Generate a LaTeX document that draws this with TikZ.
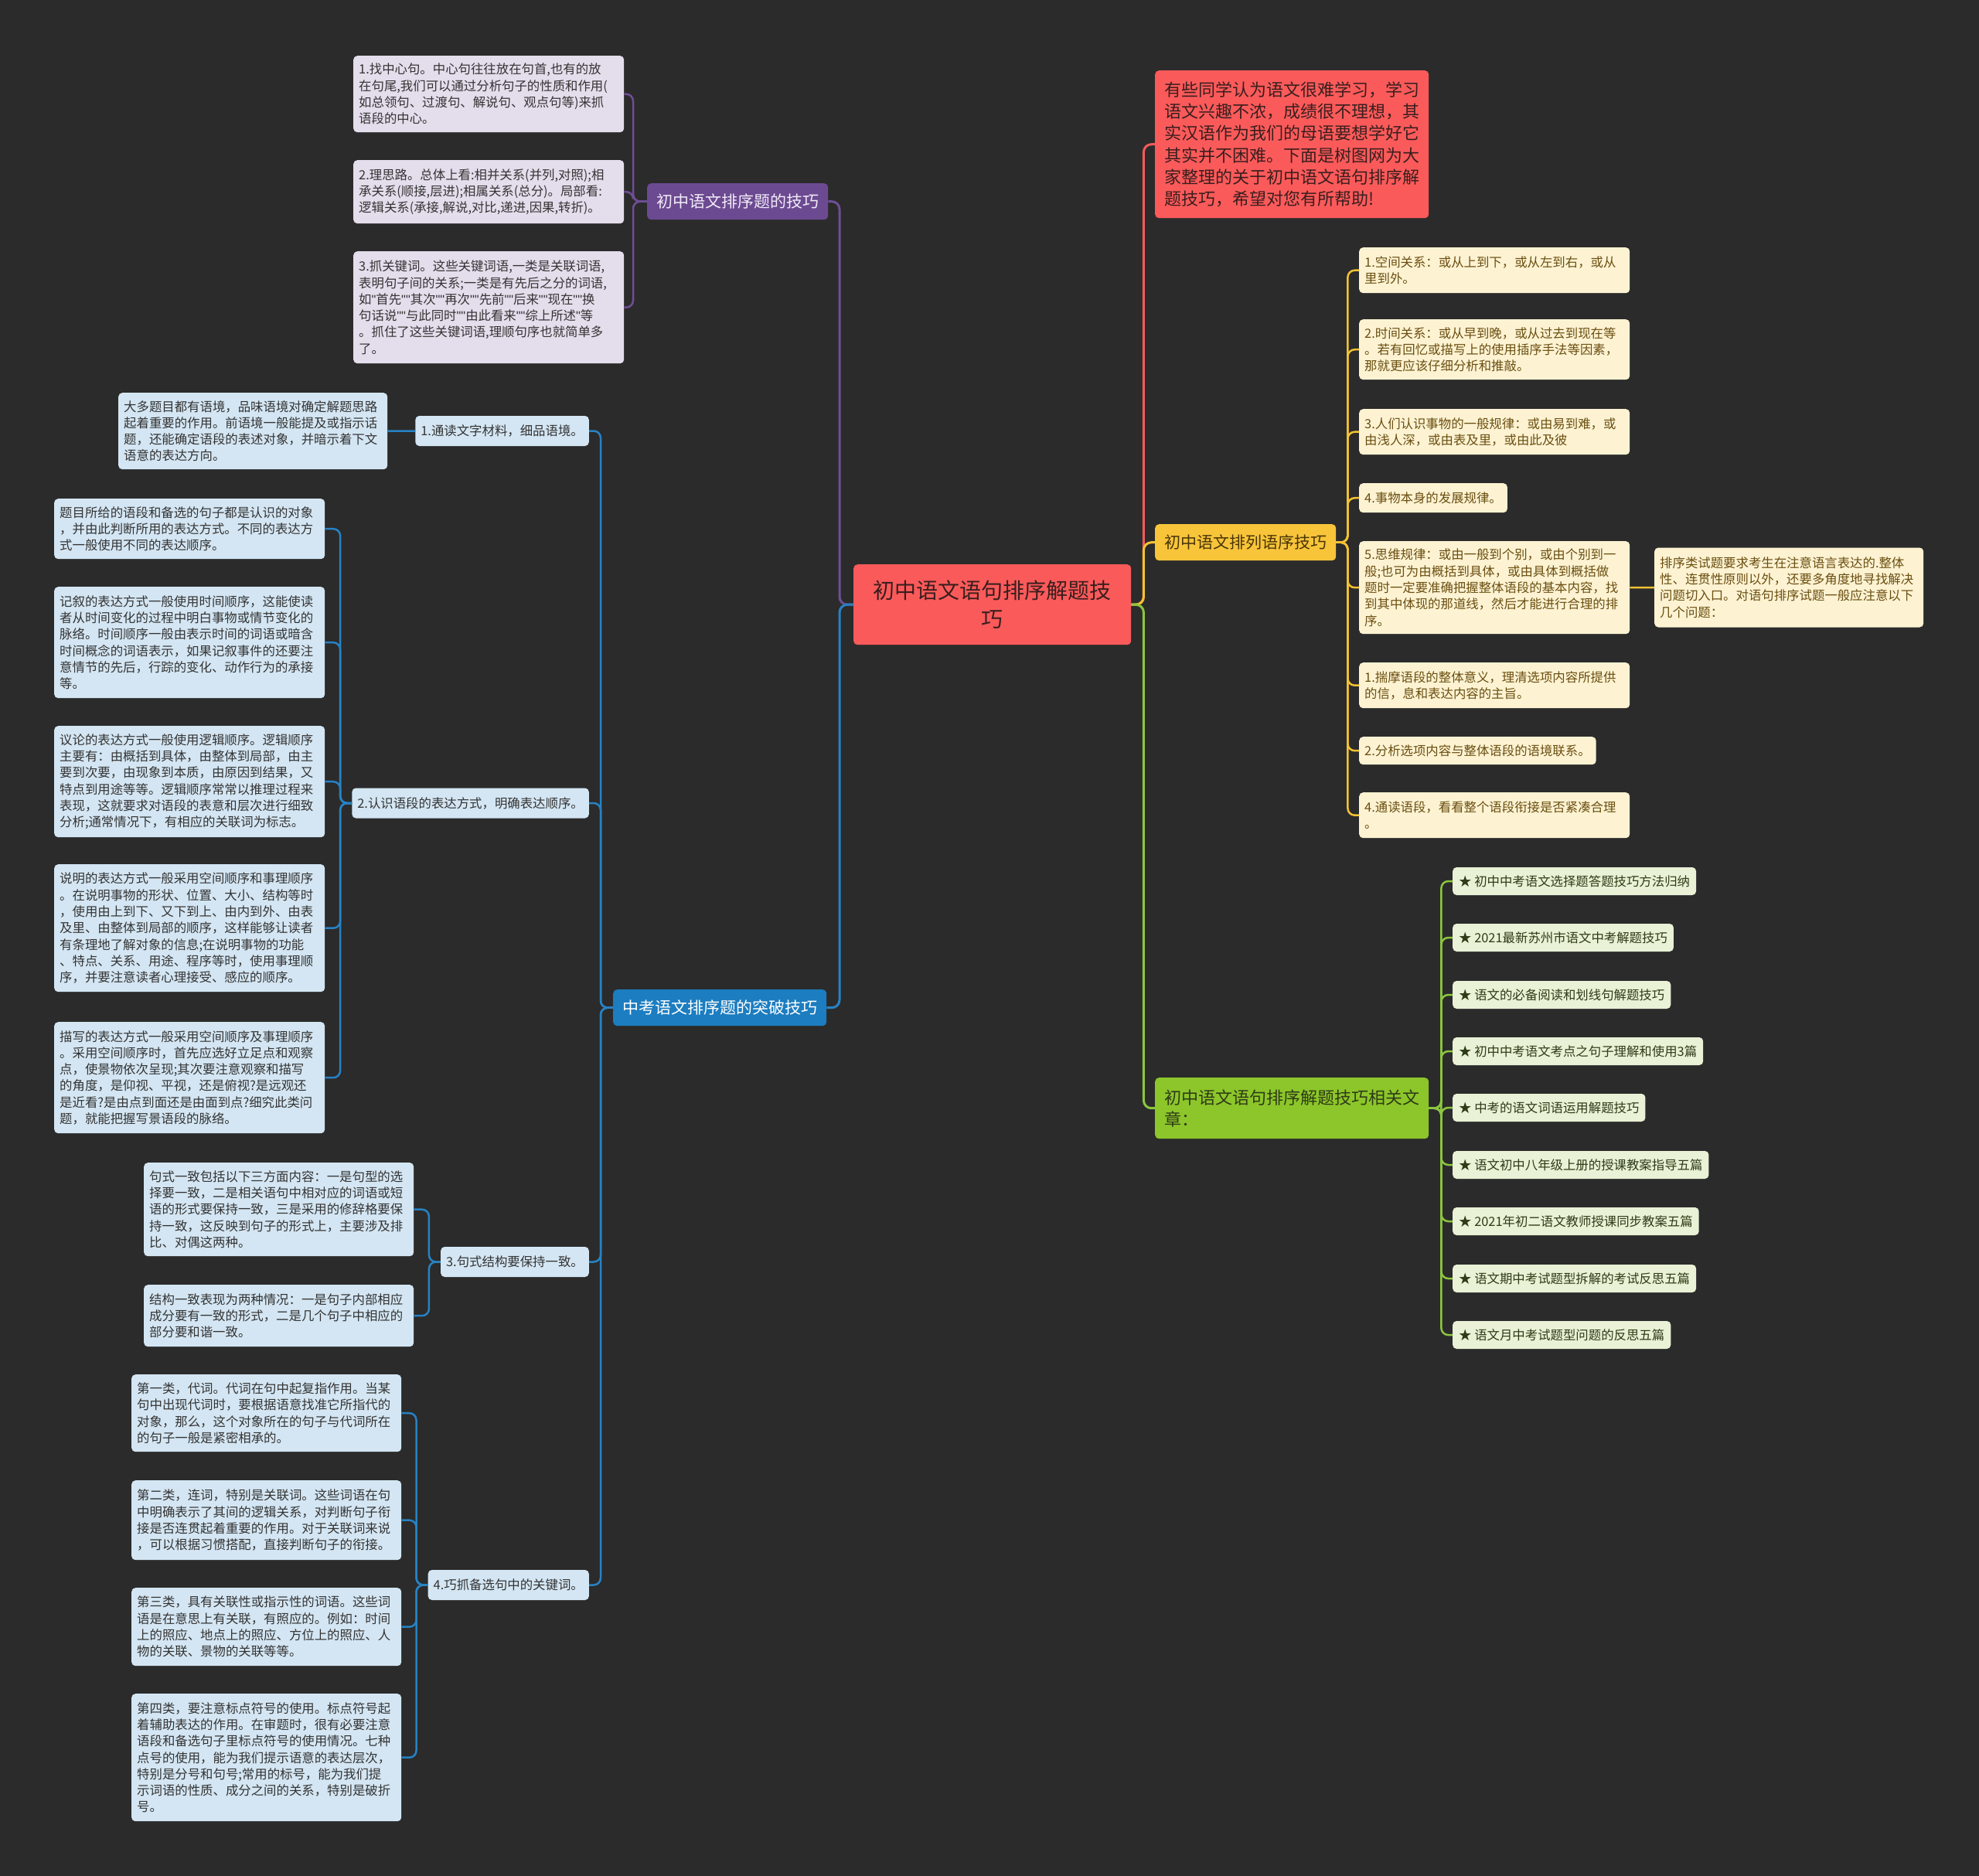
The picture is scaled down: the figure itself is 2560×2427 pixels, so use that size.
\documentclass[tikz,border=0pt]{standalone}
\usepackage{fontspec}
\setmainfont{Noto Sans CJK SC}
\newfontfamily\qfont{Liberation Sans}
\newcommand\qq{{\qfont"}}
\definecolor{bg}{HTML}{2B2B2B}
\definecolor{redN}{HTML}{FB5A5A}
\definecolor{redT}{HTML}{3A1E1E}
\definecolor{redL}{HTML}{F45A5A}
\definecolor{pN}{HTML}{6C4A91}
\definecolor{pL}{HTML}{6F4E96}
\definecolor{pLeaf}{HTML}{E4DDEC}
\definecolor{pT}{HTML}{F1EBF8}
\definecolor{bN}{HTML}{1C7DC0}
\definecolor{bL}{HTML}{2782C4}
\definecolor{bLeaf}{HTML}{D4E6F3}
\definecolor{yN}{HTML}{F8C53A}
\definecolor{yL}{HTML}{F4C232}
\definecolor{yLeaf}{HTML}{FDF3D3}
\definecolor{yT}{HTML}{6A4E10}
\definecolor{yBT}{HTML}{4A3508}
\definecolor{gN}{HTML}{8CC62A}
\definecolor{gL}{HTML}{8CC63E}
\definecolor{gLeaf}{HTML}{E9F1D6}
\definecolor{gT}{HTML}{2E3B17}
\definecolor{dT}{HTML}{333333}
\newcommand\fsLeaf{\fontsize{16.4pt}{21.3pt}\selectfont}
\newcommand\fsBr{\fontsize{21pt}{28.3pt}\selectfont}
\newcommand\fsBig{\fontsize{22pt}{28.3pt}\selectfont}
\newcommand\fsRoot{\fontsize{28pt}{37pt}\selectfont}
\tikzset{
  box/.style={rounded corners=5pt, inner xsep=7pt, inner ysep=3pt, align=left},
  leaf/.style={box, text width=336pt, font=\fsLeaf},
  lone/.style={box, font=\fsLeaf},
  pleaf/.style={leaf, fill=pLeaf, text=dT},
  bleaf/.style={leaf, fill=bLeaf, text=dT},
  bsub/.style={lone, fill=bLeaf, text=dT, minimum height=39pt},
  yleaf/.style={leaf, fill=yLeaf, text=yT},
  ylone/.style={lone, fill=yLeaf, text=yT},
  gleaf/.style={lone, fill=gLeaf, text=gT, minimum height=36pt, inner xsep=8pt},
  branch/.style={box, font=\fsBr, inner xsep=12pt, minimum height=47pt},
  conn/.style={line width=2.5pt, rounded corners=9pt},
  mconn/.style={line width=3pt, rounded corners=10pt},
}
\begin{document}
\begin{tikzpicture}[x=1pt,y=-1pt]
\fill[bg] (0,0) rectangle (2560,2427);
\useasboundingbox (0,0) rectangle (2560,2427);

% root
\node[box, fill=redN, text=redT, font=\fsRoot, align=center, text width=312pt, inner xsep=23.5pt, minimum height=104pt, anchor=north west] (root) at (1104,730) {初中语文语句排序解题技\\巧};

% ===== right side =====
\node[box, fill=redN, text=redT, font=\fsBig, text width=330pt, inner xsep=12pt, minimum height=191pt, anchor=north west] (intro) at (1494,91) {有些同学认为语文很难学习，学习\\语文兴趣不浓，成绩很不理想，其\\实汉语作为我们的母语要想学好它\\其实并不困难。下面是树图网为大\\家整理的关于初中语文语句排序解\\题技巧，希望对您有所帮助!};

\node[branch, fill=yN, text=yBT, anchor=north west] (yb) at (1494,678) {初中语文排列语序技巧};

\node[yleaf, minimum height=59pt, anchor=north west] (y1) at (1758,320) {1.空间关系：或从上到下，或从左到右，或从\\里到外。};
\node[yleaf, minimum height=78pt, anchor=north west] (y2) at (1758,413) {2.时间关系：或从早到晚，或从过去到现在等\\。若有回忆或描写上的使用插序手法等因素，\\那就更应该仔细分析和推敲。};
\node[yleaf, minimum height=59pt, anchor=north west] (y3) at (1758,529) {3.人们认识事物的一般规律：或由易到难，或\\由浅人深，或由表及里，或由此及彼};
\node[ylone, minimum height=38pt, anchor=north west] (y4) at (1758,625) {4.事物本身的发展规律。};
\node[yleaf, minimum height=120pt, anchor=north west] (y5) at (1758,700) {5.思维规律：或由一般到个别，或由个别到一\\般;也可为由概括到具体，或由具体到概括做\\题时一定要准确把握整体语段的基本内容，找\\到其中体现的那道线，然后才能进行合理的排\\序。};
\node[yleaf, text width=334pt, minimum height=103pt, anchor=west] (y5s) at (2140,760) {排序类试题要求考生在注意语言表达的.整体\\性、连贯性原则以外，还要多角度地寻找解决\\问题切入口。对语句排序试题一般应注意以下\\几个问题：};
\node[yleaf, minimum height=59pt, anchor=north west] (y6) at (1758,857) {1.揣摩语段的整体意义，理清选项内容所提供\\的信，息和表达内容的主旨。};
\node[ylone, minimum height=36pt, anchor=north west] (y7) at (1758,953) {2.分析选项内容与整体语段的语境联系。};
\node[yleaf, minimum height=59pt, anchor=north west] (y8) at (1758,1025) {4.通读语段，看看整个语段衔接是否紧凑合理\\。};

\node[box, fill=gN, text=gT, font=\fsBig, text width=330pt, inner xsep=12pt, minimum height=79pt, anchor=north west] (gb) at (1494,1394) {初中语文语句排序解题技巧相关文\\章：};

\node[gleaf, anchor=west] (g1) at (1879,1140) {★ 初中中考语文选择题答题技巧方法归纳};
\node[gleaf, anchor=west] (g2) at (1879,1213) {★ 2021最新苏州市语文中考解题技巧};
\node[gleaf, anchor=west] (g3) at (1879,1287) {★ 语文的必备阅读和划线句解题技巧};
\node[gleaf, anchor=west] (g4) at (1879,1360) {★ 初中中考语文考点之句子理解和使用3篇};
\node[gleaf, anchor=west] (g5) at (1879,1433) {★ 中考的语文词语运用解题技巧};
\node[gleaf, anchor=west] (g6) at (1879,1507) {★ 语文初中八年级上册的授课教案指导五篇};
\node[gleaf, anchor=west] (g7) at (1879,1580) {★ 2021年初二语文教师授课同步教案五篇};
\node[gleaf, anchor=west] (g8) at (1879,1654) {★ 语文期中考试题型拆解的考试反思五篇};
\node[gleaf, anchor=west] (g9) at (1879,1727) {★ 语文月中考试题型问题的反思五篇};

% ===== left side =====
\node[branch, fill=pN, text=pT, anchor=north west] (pb) at (837,237) {初中语文排序题的技巧};
\node[pleaf, minimum height=99pt, anchor=north west] (p1) at (457,72) {1.找中心句。中心句往往放在句首,也有的放\\在句尾,我们可以通过分析句子的性质和作用(\\如总领句、过渡句、解说句、观点句等)来抓\\语段的中心。};
\node[pleaf, minimum height=82pt, anchor=north west] (p2) at (457,207) {2.理思路。总体上看:相并关系(并列,对照);相\\承关系(顺接,层进);相属关系(总分)。局部看:\\逻辑关系(承接,解说,对比,递进,因果,转折)。};
\node[pleaf, minimum height=145pt, anchor=north west] (p3) at (457,325) {3.抓关键词。这些关键词语,一类是关联词语,\\表明句子间的关系;一类是有先后之分的词语,\\如\qq 首先\qq\qq 其次\qq\qq 再次\qq\qq 先前\qq\qq 后来\qq\qq 现在\qq\qq 换\\句话说\qq\qq 与此同时\qq\qq 由此看来\qq\qq 综上所述\qq 等\\。抓住了这些关键词语,理顺句序也就简单多\\了。};

\node[branch, fill=bN, text=white, anchor=north west] (bb) at (793,1280) {中考语文排序题的突破技巧};

\node[bleaf, text width=334pt, minimum height=99pt, anchor=north west] (b1a) at (153,508) {大多题目都有语境，品味语境对确定解题思路\\起着重要的作用。前语境一般能提及或指示话\\题，还能确定语段的表述对象，并暗示着下文\\语意的表达方向。};
\node[bsub, anchor=east] (b1) at (762,557.5) {1.通读文字材料，细品语境。};

\node[bsub, anchor=east] (b2) at (762,1039) {2.认识语段的表达方式，明确表达顺序。};
\node[bleaf, minimum height=78pt, anchor=north west] (b2a) at (70,645) {题目所给的语段和备选的句子都是认识的对象\\，并由此判断所用的表达方式。不同的表达方\\式一般使用不同的表达顺序。};
\node[bleaf, minimum height=144pt, anchor=north west] (b2b) at (70,759) {记叙的表达方式一般使用时间顺序，这能使读\\者从时间变化的过程中明白事物或情节变化的\\脉络。时间顺序一般由表示时间的词语或暗含\\时间概念的词语表示，如果记叙事件的还要注\\意情节的先后，行踪的变化、动作行为的承接\\等。};
\node[bleaf, minimum height=144pt, anchor=north west] (b2c) at (70,939) {议论的表达方式一般使用逻辑顺序。逻辑顺序\\主要有：由概括到具体，由整体到局部，由主\\要到次要，由现象到本质，由原因到结果，又\\特点到用途等等。逻辑顺序常常以推理过程来\\表现，这就要求对语段的表意和层次进行细致\\分析;通常情况下，有相应的关联词为标志。};
\node[bleaf, minimum height=165pt, anchor=north west] (b2d) at (70,1118) {说明的表达方式一般采用空间顺序和事理顺序\\。在说明事物的形状、位置、大小、结构等时\\，使用由上到下、又下到上、由内到外、由表\\及里、由整体到局部的顺序，这样能够让读者\\有条理地了解对象的信息;在说明事物的功能\\、特点、关系、用途、程序等时，使用事理顺\\序，并要注意读者心理接受、感应的顺序。};
\node[bleaf, minimum height=144pt, anchor=north west] (b2e) at (70,1322) {描写的表达方式一般采用空间顺序及事理顺序\\。采用空间顺序时，首先应选好立足点和观察\\点，使景物依次呈现;其次要注意观察和描写\\的角度，是仰视、平视，还是俯视?是远观还\\是近看?是由点到面还是由面到点?细究此类问\\题，就能把握写景语段的脉络。};

\node[bsub, anchor=east] (b3) at (762,1632.5) {3.句式结构要保持一致。};
\node[bleaf, text width=335pt, minimum height=121pt, anchor=north west] (b3a) at (186,1504) {句式一致包括以下三方面内容：一是句型的选\\择要一致，二是相关语句中相对应的词语或短\\语的形式要保持一致，三是采用的修辞格要保\\持一致，这反映到句子的形式上，主要涉及排\\比、对偶这两种。};
\node[bleaf, text width=335pt, minimum height=80pt, anchor=north west] (b3b) at (186,1662) {结构一致表现为两种情况：一是句子内部相应\\成分要有一致的形式，二是几个句子中相应的\\部分要和谐一致。};

\node[bsub, anchor=east] (b4) at (762,2050.5) {4.巧抓备选句中的关键词。};
\node[bleaf, text width=335pt, minimum height=100pt, anchor=north west] (b4a) at (170,1778) {第一类，代词。代词在句中起复指作用。当某\\句中出现代词时，要根据语意找准它所指代的\\对象，那么，这个对象所在的句子与代词所在\\的句子一般是紧密相承的。};
\node[bleaf, text width=335pt, minimum height=103pt, anchor=north west] (b4b) at (170,1915) {第二类，连词，特别是关联词。这些词语在句\\中明确表示了其间的逻辑关系，对判断句子衔\\接是否连贯起着重要的作用。对于关联词来说\\，可以根据习惯搭配，直接判断句子的衔接。};
\node[bleaf, text width=335pt, minimum height=101pt, anchor=north west] (b4c) at (170,2054) {第三类，具有关联性或指示性的词语。这些词\\语是在意思上有关联，有照应的。例如：时间\\上的照应、地点上的照应、方位上的照应、人\\物的关联、景物的关联等等。};
\node[bleaf, text width=335pt, minimum height=165pt, anchor=north west] (b4d) at (170,2191) {第四类，要注意标点符号的使用。标点符号起\\着辅助表达的作用。在审题时，很有必要注意\\语段和备选句子里标点符号的使用情况。七种\\点号的使用，能为我们提示语意的表达层次，\\特别是分号和句号;常用的标号，能为我们提\\示词语的性质、成分之间的关系，特别是破折\\号。};

% ===== connectors =====
\draw[mconn, draw=redL] (root.east) -- ++(16,0) |- (intro.west);
\draw[mconn, draw=yL] (root.east) -- ++(16,0) |- (yb.west);
\draw[mconn, draw=gL] (root.east) -- ++(16,0) |- (gb.west);
\draw[mconn, draw=pL] (root.west) -- ++(-18,0) |- (pb.east);
\draw[mconn, draw=bL] (root.west) -- ++(-18,0) |- (bb.east);

\foreach \n in {y1,y2,y3,y4,y5,y6,y7,y8}
  \draw[conn, draw=yL] (yb.east) -- ++(15,0) |- (\n.west);
\draw[conn, draw=yL] (y5.east) -- (y5s.west);
\foreach \n in {g1,g2,g3,g4,g5,g6,g7,g8,g9}
  \draw[conn, draw=gL] (gb.east) -- ++(16,0) |- (\n.west);

\foreach \n in {p1,p2,p3}
  \draw[conn, draw=pL] (pb.west) -- ++(-18,0) |- (\n.east);
\foreach \n in {b1,b2,b3,b4}
  \draw[conn, draw=bL] (bb.west) -- ++(-16,0) |- (\n.east);
\draw[conn, draw=bL] (b1.west) -- (b1a.east);
\foreach \n in {b2a,b2b,b2c,b2d,b2e}
  \draw[conn, draw=bL] (b2.west) -- ++(-15,0) |- (\n.east);
\foreach \n in {b3a,b3b}
  \draw[conn, draw=bL] (b3.west) -- ++(-15,0) |- (\n.east);
\foreach \n in {b4a,b4b,b4c,b4d}
  \draw[conn, draw=bL] (b4.west) -- ++(-15,0) |- (\n.east);
\end{tikzpicture}
\end{document}
